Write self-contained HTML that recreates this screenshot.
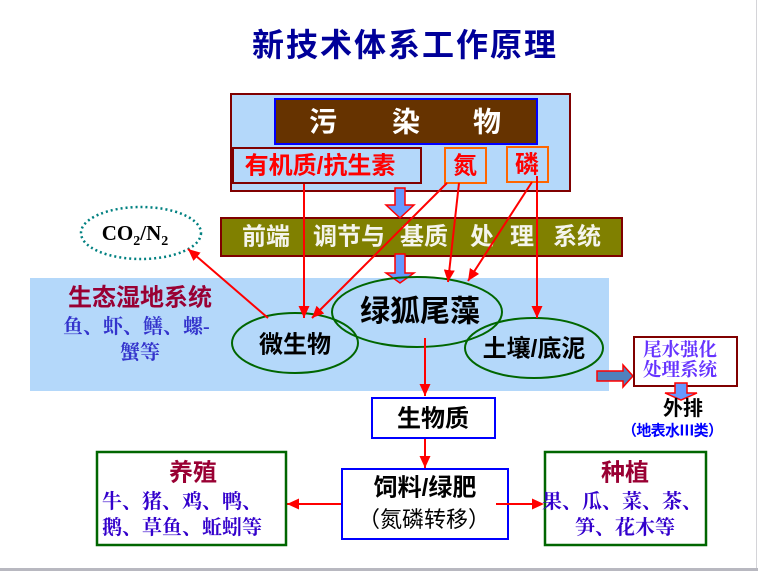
<!DOCTYPE html>
<html>
<head>
<meta charset="utf-8">
<style>
  html,body{margin:0;padding:0;background:#fff;}
  svg{display:block;}
  .s{font-family:"Liberation Sans","Noto Sans CJK SC",sans-serif;}
  .c{font-family:"Noto Sans CJK SC","Liberation Sans",sans-serif;}
  .sf{font-family:"Liberation Serif","Noto Serif CJK SC",serif;}
</style>
</head>
<body>
<svg width="758" height="571" viewBox="0 0 758 571" xmlns="http://www.w3.org/2000/svg">
  <defs>
    <marker id="ah" markerWidth="12" markerHeight="11" refX="12" refY="5.5" orient="auto" markerUnits="userSpaceOnUse">
      <path d="M0,0 L12,5.5 L0,11 z" fill="#ff0000"/>
    </marker>
  </defs>
  <rect x="0" y="0" width="758" height="571" fill="#fff"/>
  <rect x="756" y="0" width="1" height="568" fill="#d4d4d8"/>
  <rect x="0" y="568" width="758" height="3" fill="#b8b8c0"/>

  <text class="s" x="405" y="45" font-size="32" font-weight="bold" fill="#000099" text-anchor="middle" dominant-baseline="central" letter-spacing="2">新技术体系工作原理</text>

  <rect x="231" y="94" width="339" height="97" fill="#b4d8fa" stroke="#800000" stroke-width="2"/>
  <rect x="275" y="99" width="262" height="45" fill="#663300" stroke="#0000ff" stroke-width="2"/>
  <g class="s" font-size="28" font-weight="bold" fill="#ffffff" text-anchor="middle" dominant-baseline="central">
    <text x="323" y="122">污</text>
    <text x="406" y="122">染</text>
    <text x="487" y="122">物</text>
  </g>
  <rect x="233" y="148" width="188" height="35" fill="#b4d8fa" stroke="#800000" stroke-width="2"/>
  <text class="s" x="320" y="166" font-size="24" font-weight="bold" fill="#ff0000" text-anchor="middle" dominant-baseline="central">有机质/抗生素</text>
  <rect x="445" y="148" width="41" height="35" fill="none" stroke="#ff6600" stroke-width="2"/>
  <text class="s" x="465" y="166" font-size="24" font-weight="bold" fill="#ff0000" text-anchor="middle" dominant-baseline="central">氮</text>
  <rect x="507" y="147" width="41" height="35" fill="none" stroke="#ff6600" stroke-width="2"/>
  <text class="s" x="527" y="165" font-size="24" font-weight="bold" fill="#ff0000" text-anchor="middle" dominant-baseline="central">磷</text>

  <rect x="221" y="218" width="401" height="38" fill="#808000" stroke="#800000" stroke-width="2"/>
  <g class="s" font-size="24" font-weight="bold" fill="#f4f4ec" dominant-baseline="central">
    <text x="242" y="237">前端</text>
    <text x="313" y="237">调节与</text>
    <text x="400" y="237">基质</text>
    <text x="470" y="237">处</text>
    <text x="510" y="237">理</text>
    <text x="553" y="237">系统</text>
  </g>

  <rect x="30" y="278" width="579" height="113" fill="#b4d8fa"/>

  <polygon points="395,188 405,188 405,205 414,205 400,218 386,205 395,205" fill="#6699ff" stroke="#ff0000" stroke-width="1.5"/>
  <polygon points="395,254 405,254 405,273 414,273 400,283 386,273 395,273" fill="#6699ff" stroke="#ff0000" stroke-width="1.5"/>

  <ellipse cx="141" cy="233" rx="60" ry="26" fill="#fff" stroke="#008080" stroke-width="2.5" stroke-dasharray="2,3"/>
  <text class="sf" x="135" y="240" font-size="21" font-weight="bold" fill="#000" text-anchor="middle">CO<tspan font-size="14" dy="5">2</tspan><tspan dy="-5">/N</tspan><tspan font-size="14" dy="5">2</tspan></text>

  <text class="s" x="140" y="298" font-size="24" font-weight="bold" fill="#990033" text-anchor="middle" dominant-baseline="central">生态湿地系统</text>
  <text class="sf" x="63" y="327" font-size="20" font-weight="bold" fill="#3333cc" dominant-baseline="central">鱼、虾、鳝、螺-</text>
  <text class="sf" x="140" y="353" font-size="20" font-weight="bold" fill="#3333cc" text-anchor="middle" dominant-baseline="central">蟹等</text>

  <ellipse cx="295" cy="343" rx="63" ry="30" fill="none" stroke="#006600" stroke-width="2"/>
  <ellipse cx="417" cy="312" rx="85" ry="35" fill="none" stroke="#006600" stroke-width="2"/>
  <ellipse cx="534" cy="348" rx="69" ry="30" fill="none" stroke="#006600" stroke-width="2"/>
  <text class="s" x="295" y="345" font-size="24" font-weight="bold" fill="#000" text-anchor="middle" dominant-baseline="central">微生物</text>
  <text class="s" x="420" y="312" font-size="30" font-weight="bold" fill="#000" text-anchor="middle" dominant-baseline="central">绿狐尾藻</text>
  <text class="s" x="534" y="349" font-size="24" font-weight="bold" fill="#000" text-anchor="middle" dominant-baseline="central">土壤/底泥</text>

  <g stroke="#ff0000" stroke-width="2" fill="none" marker-end="url(#ah)">
    <line x1="304" y1="184" x2="304" y2="318"/>
    <line x1="447" y1="183" x2="312" y2="318"/>
    <line x1="459" y1="183" x2="448" y2="282"/>
    <line x1="532" y1="182" x2="468" y2="281"/>
    <line x1="537" y1="176" x2="537" y2="318"/>
    <line x1="268" y1="318" x2="188" y2="249"/>
    <line x1="425" y1="338" x2="425" y2="396"/>
    <line x1="425" y1="439" x2="425" y2="468"/>
    <line x1="342" y1="504" x2="287" y2="504"/>
  </g>

  <rect x="372" y="398" width="123" height="40" fill="#fff" stroke="#0000ff" stroke-width="2"/>
  <text class="s" x="433" y="419" font-size="24" font-weight="bold" fill="#000" text-anchor="middle" dominant-baseline="central">生物质</text>

  <rect x="342" y="469" width="166" height="70" fill="#fff" stroke="#0000ff" stroke-width="2"/>
  <text class="s" x="425" y="488" font-size="24" font-weight="bold" fill="#000" text-anchor="middle" dominant-baseline="central">饲料/绿肥</text>
  <text class="c" x="424" y="518" font-size="22" fill="#000" text-anchor="middle" dominant-baseline="central">（氮磷转移）</text>
  <line x1="496" y1="504" x2="533" y2="504" stroke="#ff0000" stroke-width="2"/>

  <rect x="97" y="452" width="189" height="93" fill="#fff" stroke="#006600" stroke-width="2.5"/>
  <text class="s" x="193" y="473" font-size="24" font-weight="bold" fill="#990033" text-anchor="middle" dominant-baseline="central">养殖</text>
  <text class="sf" x="102" y="502" font-size="20" font-weight="bold" fill="#3300cc" dominant-baseline="central">牛、猪、鸡、鸭、</text>
  <text class="sf" x="102" y="528" font-size="20" font-weight="bold" fill="#3300cc" dominant-baseline="central">鹅、草鱼、蚯蚓等</text>

  <rect x="545" y="452" width="161" height="93" fill="#fff" stroke="#006600" stroke-width="2.5"/>
  <text class="s" x="625" y="473" font-size="24" font-weight="bold" fill="#990033" text-anchor="middle" dominant-baseline="central">种植</text>
  <text class="sf" x="622" y="502" font-size="20" font-weight="bold" fill="#3300cc" text-anchor="middle" dominant-baseline="central">果、瓜、菜、茶、</text>
  <text class="sf" x="625" y="528" font-size="20" font-weight="bold" fill="#3300cc" text-anchor="middle" dominant-baseline="central">笋、花木等</text>
  <polygon points="532,498.5 544,504 532,509.5" fill="#ff0000"/>

  <polygon points="597,371 623,371 623,365 633,376 623,387 623,381 597,381" fill="#4f81bd" stroke="#ff0000" stroke-width="1.5"/>
  <rect x="634" y="337" width="103" height="49" fill="#fff" stroke="#800000" stroke-width="2"/>
  <text class="sf" x="643" y="351" font-size="18.5" font-weight="bold" fill="#6633ff" dominant-baseline="central">尾水强化</text>
  <text class="sf" x="643" y="371" font-size="18.5" font-weight="bold" fill="#6633ff" dominant-baseline="central">处理系统</text>
  <polygon points="675,383 687,383 687,393 697,393 681,400 665,393 675,393" fill="#6699ff" stroke="#ff0000" stroke-width="1.5"/>
  <text class="s" x="683" y="409" font-size="20" font-weight="bold" fill="#000" text-anchor="middle" dominant-baseline="central">外排</text>
  <text class="c" x="622" y="430" font-size="15" font-weight="bold" fill="#0000ff" dominant-baseline="central" textLength="101" lengthAdjust="spacing">（地表水Ⅲ类）</text>
</svg>
</body>
</html>
